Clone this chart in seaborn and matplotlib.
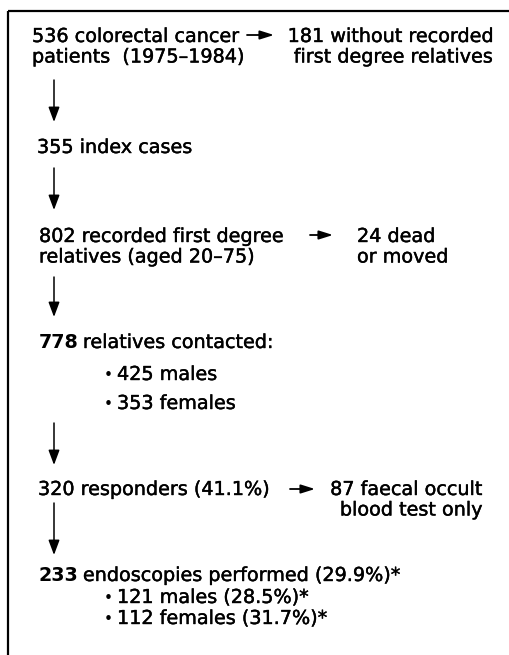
import matplotlib
matplotlib.use("Agg")
import matplotlib.pyplot as plt
import matplotlib.patheffects as pe
import seaborn as sns

sns.set_theme(style="white")
plt.rcParams["font.family"] = ["DejaVu Sans"]
plt.rcParams["text.color"] = "black"

# flow stages (main column)
stage_text = [
    "536 colorectal cancer\npatients  (1975\u20131984)",
    "355 index cases",
    "802 recorded first degree\nrelatives (aged 20\u201375)",
    "relatives contacted:",
    "320 responders (41.1%)",
    "endoscopies performed (29.9%)*",
]
bold_counts = {3: "778", 5: "233"}
sub_items = {
    3: ["425 males", "353 females"],
    5: ["121 males (28.5%)*", "112 females (31.7%)*"],
}
# side exits (stage index -> text)
exit_stage = [0, 2, 4]
exit_text = [
    "181 without recorded\nfirst degree relatives",
    "24 dead\nor moved",
    "87 faecal occult\nblood test only",
]

# layout in pixel space
W, H = 509, 655
FS = 13.8
stage_x = [32, 37, 39, 39, 38, 39]
stage_base = [42, 153, 242, 348, 495, 581]
line_gap = 20.5
sub_base = {3: [380, 409], 5: [603, 624]}
bullet_x, sub_x = 104, 117
down_arrows = [(80, 122), (168, 210), (277, 317), (423, 465), (503, 555)]
arrow_x = 54
side_arrows = [(247, 274, 35), (310, 333, 235), (290, 315, 489)]
exit_x = [493, 357, 482]
exit_ha = ["right", "left", "right"]

stroke = [pe.withStroke(linewidth=0.3, foreground="black")]

fig = plt.figure(figsize=(W / 100, H / 100), dpi=100)
ax = fig.add_axes([0, 0, 1, 1])
ax.set_xlim(0, W)
ax.set_ylim(H, 0)
ax.axis("off")

# open frame: top and left edges
ax.plot([8, W], [11, 11], color="black", lw=1.6, solid_capstyle="butt")
ax.plot([8, 8], [11, H], color="black", lw=1.6, solid_capstyle="butt")

def put_lines(text, x, y0, ha="left"):
    for i, line in enumerate(text.split("\n")):
        ax.text(x, y0 + i * line_gap, line, ha=ha, va="baseline",
                fontsize=FS, color="black", path_effects=stroke)

for i, txt in enumerate(stage_text):
    if i in bold_counts:
        t = ax.text(stage_x[i], stage_base[i], bold_counts[i], ha="left",
                    va="baseline", fontsize=FS, weight="bold", color="black")
        ax.annotate(txt, xy=(1, 0), xycoords=t, xytext=(3, 0),
                    textcoords="offset points", ha="left", va="bottom",
                    fontsize=FS, color="black", path_effects=stroke)
    else:
        put_lines(txt, stage_x[i], stage_base[i])
    for item, yb in zip(sub_items.get(i, []), sub_base.get(i, [])):
        ax.text(bullet_x, yb, "\u2022", ha="left", va="baseline",
                fontsize=FS * 0.8, color="black")
        ax.text(sub_x, yb, item, ha="left", va="baseline", fontsize=FS,
                color="black", path_effects=stroke)

for (y0, y1) in down_arrows:
    ax.annotate("", xy=(arrow_x, y1), xytext=(arrow_x, y0),
                arrowprops=dict(arrowstyle="-|>,head_length=0.75,head_width=0.28",
                                lw=1.1, color="black", shrinkA=0, shrinkB=0))

for k, (x0, x1, y) in enumerate(side_arrows):
    ax.annotate("", xy=(x1, y), xytext=(x0, y),
                arrowprops=dict(arrowstyle="-|>,head_length=0.7,head_width=0.22",
                                lw=1.3, color="black", shrinkA=0, shrinkB=0))
    put_lines(exit_text[k], exit_x[k], stage_base[exit_stage[k]], ha=exit_ha[k])

fig.savefig("out.png", dpi=100, facecolor="white")
